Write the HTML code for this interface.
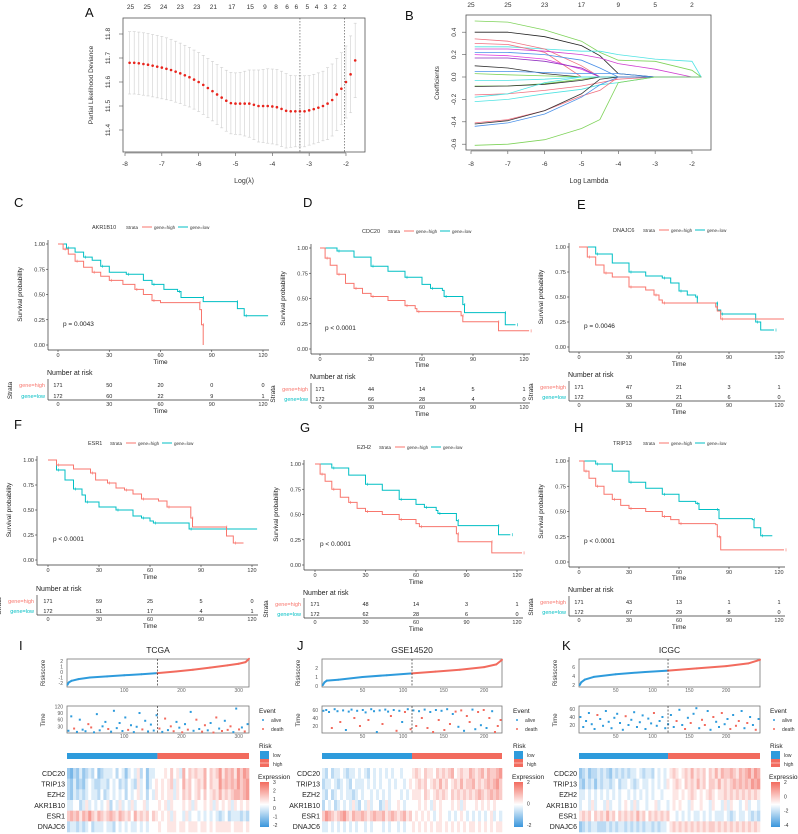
<!DOCTYPE html>
<html><head><meta charset="utf-8"><style>
html,body{margin:0;padding:0;background:#fff}
svg{display:block;font-family:"Liberation Sans",Arial,sans-serif}
</style></head><body>
<svg id="fig" width="798" height="834" viewBox="0 0 798 834" xmlns="http://www.w3.org/2000/svg"></svg>
<script>
// ---------- Panel A data ----------
const aLam=[-7.875,-7.75,-7.625,-7.5,-7.375,-7.25,-7.125,-7,-6.875,-6.75,-6.625,-6.5,-6.375,-6.25,-6.125,-6,-5.875,-5.75,-5.625,-5.5,-5.375,-5.25,-5.125,-5,-4.875,-4.75,-4.625,-4.5,-4.375,-4.25,-4.125,-4,-3.875,-3.75,-3.625,-3.5,-3.375,-3.25,-3.125,-3,-2.875,-2.75,-2.625,-2.5,-2.375,-2.25,-2.125,-2,-1.875,-1.75];
const aMean=[11.68,11.68,11.678,11.675,11.672,11.668,11.664,11.66,11.655,11.65,11.643,11.636,11.628,11.62,11.61,11.6,11.588,11.575,11.562,11.548,11.535,11.522,11.512,11.51,11.51,11.51,11.51,11.505,11.5,11.5,11.5,11.498,11.495,11.488,11.48,11.478,11.478,11.478,11.478,11.482,11.487,11.493,11.5,11.51,11.525,11.548,11.572,11.6,11.632,11.69];
const aHalf=[.13,.13,.13,.13,.13,.13,.13,.13,.129,.128,.127,.126,.125,.124,.123,.123,.123,.123,.124,.125,.126,.127,.128,.128,.13,.135,.14,.145,.15,.152,.155,.156,.157,.157,.155,.15,.148,.148,.148,.145,.145,.145,.145,.15,.15,.15,.15,.15,.16,.155];
const aTopLabels=["25","25","24","23","23","21","17","15","9","8","6","6","5","4","3","2","2"];
const aTopPos=[-7.85,-7.4,-6.95,-6.5,-6.05,-5.6,-5.1,-4.6,-4.2,-3.9,-3.6,-3.35,-3.05,-2.8,-2.55,-2.3,-2.04];
const aXTicks=[-8,-7,-6,-5,-4,-3,-2];
const aYTicks=[11.4,11.5,11.6,11.7,11.8];
const aVlines=[-3.25,-2.04];
// ---------- Panel B data ----------
const bLam=[-7.9,-7,-6,-5,-4.5,-4,-3,-2,-1.75];
const bPaths=[
 [.50,.49,.42,.32,.22,.15,.14,.06,0],[.40,.40,.36,.28,.19,.03,0,0,0],[.27,.27,.25,.23,.23,.2,.16,.14,0],
 [.34,.32,.25,.10,0,0,0,0,0],[.30,.29,.22,0,0,0,0,0,0],[.25,.25,.23,.2,.17,.12,.07,0,0],
 [.22,.22,.2,.15,.08,0,0,0,0],[.20,.19,.16,.07,0,0,0,0,0],[.17,.17,.14,.08,0,0,0,0,0],
 [.10,.08,.03,0,0,0,0,0,0],[.05,.05,.04,.03,.03,.03,0,0,0],[.03,.02,.01,0,0,0,0,0,0],
 [-.03,-.03,-.02,0,0,0,0,0,0],[-.08,-.08,-.06,-.02,0,0,0,0,0],[-.085,-.08,-.065,-.03,0,0,0,0,0],
 [-.16,-.15,-.12,-.08,-.05,-.02,0,0,0],[-.22,-.2,-.15,-.11,-.07,-.05,0,0,0],[-.18,-.15,-.05,0,0,0,0,0,0],
 [-.41,-.38,-.3,-.17,-.12,0,0,0,0],[-.42,-.39,-.3,-.15,-.02,0,0,0,0],[-.44,-.41,-.33,-.18,-.07,0,0,0,0],
 [-.61,-.6,-.56,-.46,-.38,-.05,0,0,0]];
const bColors=["#7fd35a","#222","#4fe3e3","#f07080","#f07080","#d040d0","#4a90e8","#e040e0","#9030c0","#333","#4a90e8","#7fd35a","#4fe3e3","#7fd35a","#333","#f07080","#4fe3e3","#4fe3e3","#f07080","#333","#4a90e8","#7fd35a"];
const bTopLabels=["25","25","23","17","9","5","2"];
const bTopPos=[-8,-7,-6,-5,-4,-3,-2];
const bYTicks=[-0.6,-0.4,-0.2,0,0.2,0.4];
// ---------- KM data ----------
const kmC_high=[[0,1],[3,.95],[6,.9],[10,.83],[15,.77],[20,.72],[25,.68],[30,.64],[38,.6],[45,.55],[50,.5],[55,.44],[60,.42],[82,.42],[83,.35],[84,.2],[85,0]];
const kmC_low=[[0,1],[5,.96],[10,.92],[15,.87],[20,.84],[25,.78],[30,.72],[40,.7],[50,.64],[55,.6],[62,.55],[70,.53],[72,.47],[84,.47],[85,.43],[104,.43],[105,.36],[109,.29],[123,.29]];
const kmD_high=[[0,1],[3,.9],[6,.83],[10,.74],[15,.65],[20,.6],[25,.55],[30,.52],[40,.48],[50,.43],[56,.4],[57,.37],[82,.37],[83,.33],[84,.27],[104,.27],[105,.18],[123,.18]];
const kmD_low=[[0,1],[10,.97],[20,.91],[30,.82],[40,.77],[50,.71],[60,.64],[65,.6],[72,.58],[73,.52],[82,.52],[84,.44],[85,.36],[108,.36],[109,.24],[115,.24]];
const kmE_high=[[0,1],[5,.9],[10,.82],[15,.74],[20,.7],[30,.6],[40,.57],[45,.52],[48,.47],[50,.44],[80,.44],[82,.4],[83,.36],[85,.28],[123,.28]];
const kmE_low=[[0,1],[10,.93],[20,.84],[30,.75],[40,.71],[50,.69],[55,.64],[60,.56],[65,.52],[70,.5],[71,.44],[82,.44],[83,.37],[85,.33],[105,.33],[106,.25],[109,.17],[117,.17]];
const kmF_high=[[0,1],[5,.95],[15,.91],[25,.87],[28,.8],[35,.77],[40,.72],[45,.7],[50,.66],[55,.61],[65,.59],[70,.53],[82,.53],[84,.42],[85,.33],[104,.33],[105,.24],[109,.17],[115,.17]];
const kmF_low=[[0,1],[5,.9],[10,.8],[15,.71],[20,.65],[22,.58],[30,.53],[40,.5],[50,.44],[55,.42],[60,.39],[62,.37],[82,.37],[83,.31],[123,.31]];
const kmG_high=[[0,1],[3,.9],[6,.83],[10,.75],[15,.67],[20,.62],[25,.56],[30,.53],[40,.5],[50,.45],[60,.41],[62,.38],[82,.38],[84,.31],[85,.23],[104,.23],[105,.12],[123,.12]];
const kmG_low=[[0,1],[10,.96],[20,.89],[30,.8],[40,.74],[50,.65],[60,.6],[65,.57],[72,.54],[73,.51],[82,.51],[84,.44],[85,.39],[108,.39],[109,.3],[116,.3]];
const kmH_high=[[0,1],[3,.9],[6,.83],[10,.75],[15,.67],[20,.62],[25,.56],[30,.53],[40,.5],[50,.45],[55,.42],[60,.38],[82,.37],[83,.25],[85,.12],[123,.12]];
const kmH_low=[[0,1],[10,.97],[20,.9],[30,.79],[40,.73],[50,.67],[60,.6],[70,.58],[72,.52],[82,.52],[84,.43],[104,.42],[105,.34],[109,.26],[116,.26]];
const riskC_high=[171,50,20,0,0], riskC_low=[172,60,22,9,1];
const riskD_high=[171,44,14,5,1], riskD_low=[172,66,28,4,0];
const riskE_high=[171,47,21,3,1], riskE_low=[172,63,21,6,0];
const riskF_high=[171,59,25,5,0], riskF_low=[172,51,17,4,1];
const riskG_high=[171,48,14,3,1], riskG_low=[172,62,28,6,0];
const riskH_high=[171,43,13,1,1], riskH_low=[172,67,29,8,0];
const kmTimeTicks=[0,30,60,90,120];
const kmSurvTicks=[0,0.25,0.5,0.75,1];
// ---------- Risk panels data ----------
const genes=["CDC20","TRIP13","EZH2","AKR1B10","ESR1","DNAJC6"];
const tcgaRiskIdx=[1,3,8,20,40,70,100,130,158,190,220,250,280,300,312,318];
const tcgaRiskVal=[-2.3,-1.9,-1.6,-1.3,-1.0,-0.8,-0.6,-0.4,-0.2,0.1,0.4,0.8,1.2,1.5,1.8,2.4];
const gseRiskIdx=[1,3,6,20,50,80,111,140,170,200,215,222];
const gseRiskVal=[0.1,0.4,0.6,0.7,1.0,1.2,1.4,1.6,1.8,2.1,2.4,2.9];
const icgcRiskIdx=[1,3,8,20,50,90,121,160,200,230,246];
const icgcRiskVal=[2.0,2.6,3.2,3.8,4.4,4.9,5.2,5.7,6.2,6.8,7.6];
const tcgaTimes=[10,75,20,5,60,15,8,40,25,3,85,12,30,50,18,6,100,22,45,9,70,14,35,4,28,90,16,55,7,38,11,80,20,5,65,13,30,8,50,24,3,40,15,95,10,60,18,6,35,12,45,2,70,20,9,55,14,30,4,110,16,25,7,40];
const tcgaEvents="aadaaaaddaaaaadaaaaaadaaaadaaaaadadaddaadadaadaddaaddadaddaadada";
const gseTimes=[58,60,55,15,62,57,30,59,10,56,61,40,58,20,60,54,35,62,57,5,59,25,61,56,45,60,8,58,30,55,62,12,59,20,57,40,61,15,55,5,60,35,58,10,62,25,50,56,18,59,8,45,30,61,12,55,22,60,15,40,57,5,20,35];
const gseEvents="aaadaadaaaadadaadaaaadaadadaadadadadadadadadadadadaddaadadadaddd";
const icgcTimes=[40,15,30,50,22,10,45,35,18,55,28,12,38,48,25,8,42,20,33,52,15,27,44,10,36,24,50,18,30,40,12,22,45,15,30,58,20,10,38,25,48,62,12,33,20,55,8,40,28,15,50,22,35,10,45,18,30,55,12,25,40,20,8,35];
const icgcEvents="aaaaaadaaaaaaaaadaaaaaaaaadaaaaaaadaadadaaaddaadaadaadaddaadaada";
const tcgaHeat=["102131232412333424313435241334445464537465655746568576758687","213121343223324342324325341345454563547564565746558676768678","213232343324234343424345342435454553546564564645657565677678","334423534343452435343534453444545354445453544545354545354545","676757686576567657656475656465454535443534434343432342333232","233232342333433243434334343444544555455455545545455555455545"];
const gseHeat=["324233432334343243434343443444565465546565674565576567576678","233432343243334343434434344345456564565756456575667565676786","324234343323434434343434443434555465456565465656565676567676","243423434353243534423534454344445454354544454535444545454544","687656786576676567667567656756454545434544343454343434345343","334343434343443434443434434344545454545545454545455454545455"];
const icgcHeat=["123122323213232323343233243434565456575656465757667657678687","213231323323423343234334343435456546565756466575656767676878","334343434343434434343434344344455454565454565455656565656565","344353443534434543534434453443454544354454435443535443453443","565646565756465656575646565656443434343343434333432343343232","123233222323233232323233232334565656565656566565656565656565"];

// ---------- helpers ----------
const NS="http://www.w3.org/2000/svg";
const svg=document.getElementById('fig');
function el(tag,attrs,parent){const e=document.createElementNS(NS,tag);for(const k in attrs)e.setAttribute(k,attrs[k]);(parent||svg).appendChild(e);return e;}
function txt(x,y,s,size,anchor,fill,parent,extra){const t=el('text',Object.assign({x:x,y:y,'font-size':size,'text-anchor':anchor||'start',fill:fill||'#222'},extra||{}),parent);t.textContent=s;return t;}
function grp(name){const g=el('g',{});return g;}

// ---------- Panel A ----------
(function(){
 const g=grp('panel-a-cv-deviance');
 const X0=123,X1=365,Y0=18,Y1=152;
 const sx=v=>125+(v+8)*36.83, sy=v=>34+(11.8-v)*240;
 txt(85,17,'A',13,'start','#111',g);
 el('rect',{x:X0,y:Y0,width:X1-X0,height:Y1-Y0,fill:'none',stroke:'#555','stroke-width':0.8},g);
 aLam.forEach((l,i)=>{const x=sx(l);el('line',{x1:x,x2:x,y1:sy(aMean[i]+aHalf[i]),y2:sy(aMean[i]-aHalf[i]),stroke:'#cfcfcf','stroke-width':0.6},g);
  el('line',{x1:x-1.5,x2:x+1.5,y1:sy(aMean[i]+aHalf[i]),y2:sy(aMean[i]+aHalf[i]),stroke:'#cfcfcf','stroke-width':0.6},g);
  el('line',{x1:x-1.5,x2:x+1.5,y1:sy(aMean[i]-aHalf[i]),y2:sy(aMean[i]-aHalf[i]),stroke:'#cfcfcf','stroke-width':0.6},g);});
 aLam.forEach((l,i)=>{const c=el('circle',{cx:sx(l),cy:sy(aMean[i]),r:1.3,fill:'#e8241c'},g);});
 aVlines.forEach(v=>el('line',{x1:sx(v),x2:sx(v),y1:Y0,y2:Y1,stroke:'#444','stroke-width':0.6,'stroke-dasharray':'1.5,1.5'},g));
 aXTicks.forEach(v=>{el('line',{x1:sx(v),x2:sx(v),y1:Y1+1,y2:Y1+4,stroke:'#555','stroke-width':0.6},g);txt(sx(v),166,String(v),6.5,'middle','#333',g);});
 el('line',{x1:sx(-8),x2:sx(-2),y1:Y1+1,y2:Y1+1,stroke:'#555','stroke-width':0.6},g);
 aYTicks.forEach(v=>{el('line',{x1:X0-4,x2:X0,y1:sy(v),y2:sy(v),stroke:'#555','stroke-width':0.6},g);txt(110,sy(v),v.toFixed(1),6.5,'middle','#333',g,{transform:`rotate(-90 110 ${sy(v)})`});});
 aTopLabels.forEach((s,i)=>txt(sx(aTopPos[i]),9,s,6.5,'middle','#333',g));
 txt(244,183,'Log(λ)',7,'middle','#333',g);
 txt(93,85,'Partial Likelihood Deviance',6.5,'middle','#333',g,{transform:'rotate(-90 93 85)'});
})();

// ---------- Panel B ----------
(function(){
 const g=grp('panel-b-coefficient-paths');
 const X0=466,X1=711,Y0=15,Y1=150;
 const sx=v=>471+(v+8)*36.83, sy=v=>77-v*112;
 txt(405,20,'B',13,'start','#111',g);
 el('rect',{x:X0,y:Y0,width:X1-X0,height:Y1-Y0,fill:'none',stroke:'#555','stroke-width':0.8},g);
 bPaths.forEach((p,i)=>{const d=p.map((v,j)=>(j?'L':'M')+sx(bLam[j]).toFixed(1)+','+sy(v).toFixed(1)).join('');
  const pa=el('path',{d:d,fill:'none',stroke:bColors[i],'stroke-width':0.8},g);});
 bTopPos.forEach(v=>{el('line',{x1:sx(v),x2:sx(v),y1:Y1+1,y2:Y1+4,stroke:'#555','stroke-width':0.6},g);txt(sx(v),166,String(v),6.5,'middle','#333',g);});
 el('line',{x1:sx(-8),x2:sx(-2),y1:Y1+1,y2:Y1+1,stroke:'#555','stroke-width':0.6},g);
 bTopLabels.forEach((s,i)=>txt(sx(bTopPos[i]),7,s,6.5,'middle','#333',g));
 bYTicks.forEach(v=>{el('line',{x1:X0-4,x2:X0,y1:sy(v),y2:sy(v),stroke:'#555','stroke-width':0.6},g);txt(456,sy(v),v.toFixed(1),6.5,'middle','#333',g,{transform:`rotate(-90 456 ${sy(v)})`});});
 txt(589,183,'Log Lambda',7,'middle','#333',g);
 txt(439,83,'Coefficients',6.5,'middle','#333',g,{transform:'rotate(-90 439 83)'});
})();

// ---------- KM panels ----------
const HI='#f8766d',LO='#00bfc4';
function km(c){
 const g=grp('km-panel-'+c.letter.toLowerCase());
 const sx=t=>c.x0+(c.x120-c.x0)*t/120, sy=s=>c.y0-(c.y0-c.y1)*s;
 txt(c.lx,c.ly,c.letter,13,'start','#111',g);
 txt(c.legX,c.legY+2,c.gene,5.5,'start','#333',g);
 const sX=c.legX+c.gene.length*4+6;
 txt(sX,c.legY+2,'Strata',4.5,'start','#333',g);
 el('line',{x1:sX+16,x2:sX+26,y1:c.legY,y2:c.legY,stroke:HI,'stroke-width':1},g);
 txt(sX+28,c.legY+2,'gene=high',4.5,'start','#333',g);
 el('line',{x1:sX+52,x2:sX+62,y1:c.legY,y2:c.legY,stroke:LO,'stroke-width':1},g);
 txt(sX+64,c.legY+2,'gene=low',4.5,'start','#333',g);
 el('line',{x1:c.ax,x2:c.ax,y1:c.y1-4,y2:c.y0+5,stroke:'#333','stroke-width':0.7},g);
 el('line',{x1:c.ax,x2:c.x120+6,y1:c.y0+5,y2:c.y0+5,stroke:'#333','stroke-width':0.7},g);
 kmSurvTicks.forEach(v=>{el('line',{x1:c.ax-2,x2:c.ax,y1:sy(v),y2:sy(v),stroke:'#333','stroke-width':0.6},g);txt(c.ax-3,sy(v)+2,v.toFixed(2),5.5,'end','#333',g);});
 kmTimeTicks.forEach(t=>{el('line',{x1:sx(t),x2:sx(t),y1:c.y0+5,y2:c.y0+7,stroke:'#333','stroke-width':0.6},g);txt(sx(t),c.y0+12,String(t),5.5,'middle','#333',g);});
 txt((c.x0+c.x120)/2,c.timeY,'Time',6.5,'middle','#222',g);
 const my=(c.y0+c.y1)/2;
 txt(c.ax-26,my,'Survival probability',6.5,'middle','#222',g,{transform:`rotate(-90 ${c.ax-26} ${my})`});
 txt(c.x0+5,sy(0.19),c.p,6.5,'start','#222',g);
 [[c.low,LO,'survival-curve-low'],[c.high,HI,'survival-curve-high']].forEach(([pts,col,nm])=>{
  let d='M'+sx(pts[0][0])+','+sy(pts[0][1]);
  for(let i=1;i<pts.length;i++){d+='H'+sx(pts[i][0]).toFixed(1)+'V'+sy(pts[i][1]).toFixed(1);}
  const p=el('path',{d:d,fill:'none',stroke:col,'stroke-width':1},g);
  for(let i=1;i<pts.length;i+=2){el('line',{x1:sx(pts[i][0])+2,x2:sx(pts[i][0])+2,y1:sy(pts[i][1])-1.5,y2:sy(pts[i][1])+1.5,stroke:col,'stroke-width':0.6},g);}
 });
 txt(c.ax-1,c.narY,'Number at risk',7,'start','#222',g);
 el('line',{x1:c.ax,x2:c.ax,y1:c.r1-6,y2:c.axY,stroke:'#333','stroke-width':0.7},g);
 el('line',{x1:c.ax,x2:c.x120+6,y1:c.axY,y2:c.axY,stroke:'#333','stroke-width':0.7},g);
 txt(c.ax-3,c.r1+2,'gene=high',5.5,'end',HI,g);
 txt(c.ax-3,c.r2+2,'gene=low',5.5,'end',LO,g);
 const sy2=(c.r1+c.r2)/2;
 txt(c.ax-36,sy2,'Strata',6.5,'middle','#222',g,{transform:`rotate(-90 ${c.ax-36} ${sy2})`});
 kmTimeTicks.forEach((t,i)=>{txt(sx(t),c.r1+2,String(c.rh[i]),5.5,'middle','#222',g);txt(sx(t),c.r2+2,String(c.rl[i]),5.5,'middle','#222',g);
  txt(sx(t),c.axY+6,String(t),5.5,'middle','#333',g);});
 txt((c.x0+c.x120)/2,c.axY+13,'Time',6.5,'middle','#222',g);
}
km({letter:'C',lx:14,ly:207,gene:'AKR1B10',legX:92,legY:227,ax:48,x0:58,x120:263,y1:244,y0:345,timeY:364,narY:375,r1:385,r2:396,axY:400,p:'p = 0.0043',high:kmC_high,low:kmC_low,rh:riskC_high,rl:riskC_low});
km({letter:'D',lx:303,ly:207,gene:'CDC20',legX:362,legY:231,ax:311,x0:320,x120:524,y1:248,y0:349,timeY:367,narY:379,r1:389,r2:399,axY:403,p:'p < 0.0001',high:kmD_high,low:kmD_low,rh:riskD_high,rl:riskD_low});
km({letter:'E',lx:577,ly:209,gene:'DNAJC6',legX:613,legY:230,ax:569,x0:579,x120:779,y1:247,y0:347,timeY:366,narY:377,r1:387,r2:397,axY:401,p:'p = 0.0046',high:kmE_high,low:kmE_low,rh:riskE_high,rl:riskE_low});
km({letter:'F',lx:14,ly:429,gene:'ESR1',legX:88,legY:443,ax:37,x0:48,x120:252,y1:460,y0:560,timeY:579,narY:591,r1:601,r2:611,axY:615,p:'p < 0.0001',high:kmF_high,low:kmF_low,rh:riskF_high,rl:riskF_low});
km({letter:'G',lx:300,ly:432,gene:'EZH2',legX:357,legY:447,ax:304,x0:315,x120:517,y1:464,y0:565,timeY:584,narY:595,r1:604,r2:614,axY:618,p:'p < 0.0001',high:kmG_high,low:kmG_low,rh:riskG_high,rl:riskG_low});
km({letter:'H',lx:574,ly:432,gene:'TRIP13',legX:613,legY:443,ax:569,x0:579,x120:779,y1:461,y0:562,timeY:580,narY:592,r1:602,r2:612,axY:616,p:'p < 0.0001',high:kmH_high,low:kmH_low,rh:riskH_high,rl:riskH_low});

// ---------- Risk score panels ----------
const BL='#2e9bdc',RD='#f26b5e';
function heatColor(ch){const v=(parseInt(ch)-4)/4*0.7;
 const mix=(a,b,t)=>Math.round(a+(b-a)*t);
 if(v<0){const t=-v;return `rgb(${mix(255,60,t)},${mix(255,150,t)},${mix(255,220,t)})`;}
 const t=v;return `rgb(${mix(255,242,t)},${mix(255,110,t)},${mix(255,100,t)})`;}
function riskPanel(c){
 const g=grp('risk-panel-'+c.title.toLowerCase());
 const sx=i=>c.x0+(c.x1-c.x0)*i/c.n;
 txt(c.lx,650,c.letter,13,'start','#111',g);
 txt((c.x0+c.x1)/2,653,c.title,8.5,'middle','#222',g);
 const ry=v=>c.rz-v*c.rs;
 el('rect',{x:c.x0,y:659,width:c.x1-c.x0,height:28,fill:'#fff',stroke:'#777','stroke-width':0.8},g);
 for(let i=1;i<c.ridx.length;i++){
  const col=c.ridx[i]<=c.cut?BL:RD;
  const ln=el('line',{x1:sx(c.ridx[i-1]),y1:ry(c.rval[i-1]),x2:sx(c.ridx[i]),y2:ry(c.rval[i]),stroke:col,'stroke-width':2,'stroke-linecap':'round'},g);
  }
 c.rticks.forEach(v=>txt(c.x0-4,ry(v)+2,String(v),5,'end','#555',g));
 txt(c.x0-22,673,c.riskLabel,6,'middle','#333',g,{transform:`rotate(-90 ${c.x0-22} 673)`});
 c.xticks.forEach(v=>txt(sx(v),692,String(v),5,'middle','#666',g));
 el('line',{x1:sx(c.cut),x2:sx(c.cut),y1:659,y2:687,stroke:'#333','stroke-width':0.7,'stroke-dasharray':'2,1.5'},g);
 const ty=v=>c.tz-v*c.ts;
 el('rect',{x:c.x0,y:706,width:c.x1-c.x0,height:27,fill:'#fff',stroke:'#777','stroke-width':0.8},g);
 c.times.forEach((t,i)=>{const idx=(i+0.5)*c.n/c.times.length;
  const d=el('rect',{x:sx(idx)-1,y:ty(t)-1,width:2,height:2,fill:c.events[i]==='d'?RD:BL},g);
  });
 el('line',{x1:sx(c.cut),x2:sx(c.cut),y1:706,y2:733,stroke:'#333','stroke-width':0.7,'stroke-dasharray':'2,1.5'},g);
 c.tticks.forEach(v=>txt(c.x0-4,ty(v)+2,String(v),5,'end','#555',g));
 txt(c.x0-22,720,'Time',6,'middle','#333',g,{transform:`rotate(-90 ${c.x0-22} 720)`});
 c.xticks.forEach(v=>txt(sx(v),738,String(v),5,'middle','#666',g));
 txt(c.lgx,713,'Event',6.5,'start','#222',g);
 el('circle',{cx:c.lgx+4,cy:720,r:1,fill:BL},g);txt(c.lgx+12,722,'alive',5,'start','#333',g);
 el('circle',{cx:c.lgx+4,cy:729,r:1,fill:RD},g);txt(c.lgx+12,731,'death',5,'start','#333',g);
 el('rect',{x:c.x0,y:753,width:sx(c.cut)-c.x0,height:6,fill:BL},g);
 el('rect',{x:sx(c.cut),y:753,width:c.x1-sx(c.cut),height:6,fill:RD},g);
 txt(c.lgx,748,'Risk',6.5,'start','#222',g);
 el('rect',{x:c.lgx+1,y:751,width:9,height:8,fill:BL},g);el('rect',{x:c.lgx+1,y:759,width:9,height:8,fill:RD},g);
 el('line',{x1:c.lgx+1,x2:c.lgx+10,y1:763,y2:763,stroke:'#fff','stroke-width':0.5},g);
 txt(c.lgx+14,757,'low',5,'start','#333',g);txt(c.lgx+14,766,'high',5,'start','#333',g);
 const rh=64/6;
 c.heat.forEach((row,r)=>{const cw=(c.x1-c.x0)/row.length;
  for(let j=0;j<row.length;j++){const cell=el('rect',{x:c.x0+j*cw,y:768+r*rh,width:cw+0.3,height:rh+0.3,fill:heatColor(row[j])},g);
   }
  txt(c.x0-2,768+r*rh+rh/2+2.5,genes[r],7,'end','#222',g);});
 txt(c.lgx-1,779,'Expression',6.5,'start','#222',g);
 const gid='grad'+c.letter;
 const defs=el('defs',{},g);const lg=el('linearGradient',{id:gid,x1:0,y1:0,x2:0,y2:1},defs);
 el('stop',{offset:'0','stop-color':'#f26b5e'},lg);el('stop',{offset:'0.5','stop-color':'#ffffff'},lg);el('stop',{offset:'1','stop-color':'#3a96dc'},lg);
 el('rect',{x:c.lgx+1,y:782,width:9,height:45,fill:`url(#${gid})`},g);
 c.eticks.forEach((v,i)=>txt(c.lgx+14,784+i*(43/(c.eticks.length-1)),v,5,'start','#333',g));
}
riskPanel({letter:'I',lx:19,title:'TCGA',riskLabel:'Riskscore',x0:67,x1:249,n:318,cut:158,ridx:tcgaRiskIdx,rval:tcgaRiskVal,rz:672,rs:5.5,rticks:[2,1,0,-1,-2],xticks:[100,200,300],times:tcgaTimes,events:tcgaEvents,tz:733,ts:0.222,tticks:[120,90,60,30],lgx:259,heat:tcgaHeat,eticks:['3','2','1','0','-1','-2']});
riskPanel({letter:'J',lx:297,title:'GSE14520',riskLabel:'Riskscore',x0:322,x1:502,n:222,cut:111,ridx:gseRiskIdx,rval:gseRiskVal,rz:686,rs:9,rticks:[0,1,2],xticks:[50,100,150,200],times:gseTimes,events:gseEvents,tz:734,ts:0.4,tticks:[60,40,20],lgx:513,heat:gseHeat,eticks:['2','0','-2']});
riskPanel({letter:'K',lx:562,title:'ICGC',riskLabel:'Riskscore',x0:579,x1:760,n:246,cut:121,ridx:icgcRiskIdx,rval:icgcRiskVal,rz:694,rs:4.5,rticks:[2,4,6],xticks:[50,100,150,200],times:icgcTimes,events:icgcEvents,tz:733,ts:0.4,tticks:[60,40,20],lgx:770,heat:icgcHeat,eticks:['2','0','-2','-4']});
</script>
</body></html>
